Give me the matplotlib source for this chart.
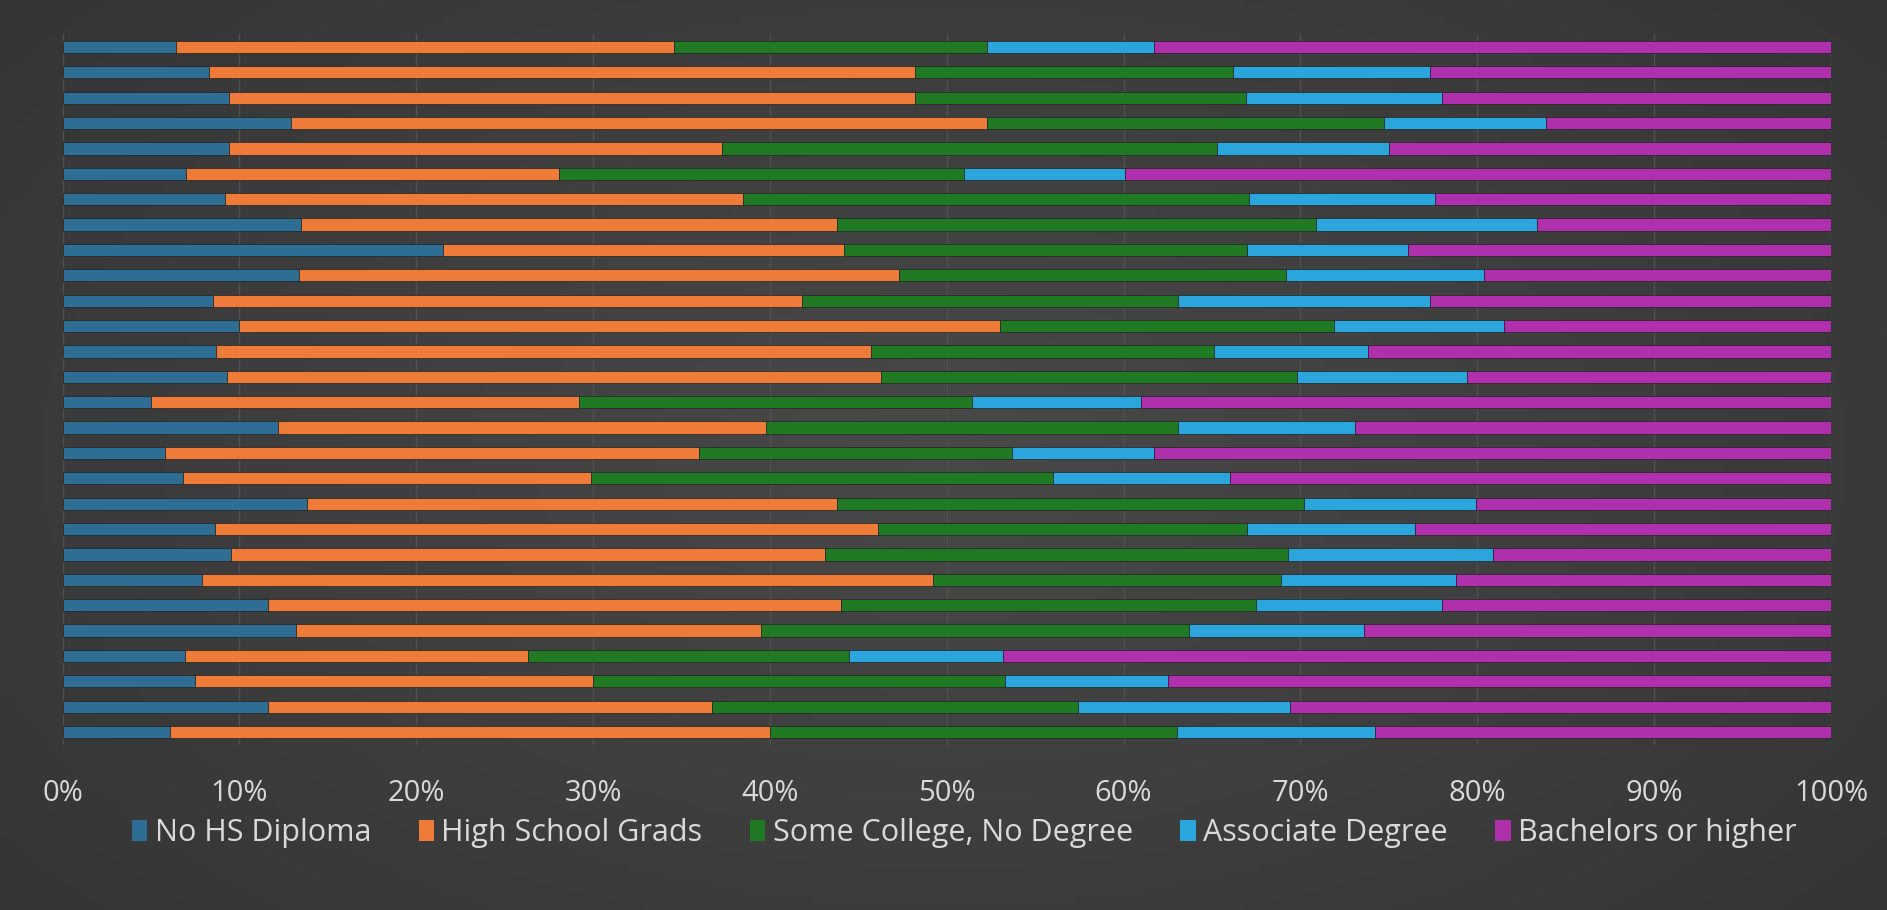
import numpy as np
import matplotlib
matplotlib.use("Agg")
import matplotlib.pyplot as plt
from matplotlib.ticker import PercentFormatter

# Data: share of each education level (percent), 28 rows, top to bottom
no_hs = [6.4, 8.3, 9.4, 12.9, 9.4, 7.0, 9.2, 13.5, 21.5, 13.4, 8.5, 10.0, 8.7, 9.3,
         5.0, 12.2, 5.8, 6.8, 13.8, 8.6, 9.5, 7.9, 11.6, 13.2, 6.9, 7.5, 11.6, 6.1]
hs_grads = [28.2, 39.9, 38.8, 39.4, 27.9, 21.1, 29.3, 30.3, 22.7, 33.9, 33.3, 43.0, 37.0, 37.0,
            24.2, 27.6, 30.2, 23.1, 30.0, 37.5, 33.6, 41.3, 32.4, 26.3, 19.4, 22.5, 25.1, 33.9]
some_college = [17.7, 18.0, 18.7, 22.4, 28.0, 22.9, 28.6, 27.1, 22.8, 21.9, 21.3, 18.9, 19.4, 23.5,
                22.2, 23.3, 17.7, 26.1, 26.4, 20.9, 26.2, 19.7, 23.5, 24.2, 18.2, 23.3, 20.7, 23.0]
associate = [9.4, 11.1, 11.1, 9.2, 9.7, 9.1, 10.5, 12.5, 9.1, 11.2, 14.2, 9.6, 8.7, 9.6,
             9.6, 10.0, 8.0, 10.0, 9.7, 9.5, 11.6, 9.9, 10.5, 9.9, 8.7, 9.2, 12.0, 11.2]
bachelors = [38.3, 22.7, 22.0, 16.1, 25.0, 39.9, 22.4, 16.6, 23.9, 19.6, 22.7, 18.5, 26.2, 20.6,
             39.0, 26.9, 38.3, 34.0, 20.1, 23.5, 19.1, 21.2, 22.0, 26.4, 46.8, 37.5, 30.6, 25.8]

series_names = ["No HS Diploma", "High School Grads", "Some College, No Degree",
                "Associate Degree", "Bachelors or higher"]
series = [no_hs, hs_grads, some_college, associate, bachelors]
colors = ["#2E6E95", "#EE7B37", "#1F7A23", "#2AA6DC", "#B02FAC"]

W, H = 1887, 910
fig = plt.figure(figsize=(W / 100, H / 100), dpi=100)

# background with soft radial shading
bg = fig.add_axes([0, 0, 1, 1], zorder=-10)
yy, xx = np.mgrid[0:1:200j, 0:1:400j]
r = np.sqrt(((xx - 0.5) / 0.75) ** 2 + ((yy - 0.5) / 0.9) ** 2)
shade = np.clip(0.285 - 0.09 * r, 0.16, 0.3)
bg.imshow(np.dstack([shade, shade, shade]), aspect="auto", extent=[0, 1, 0, 1])
bg.axis("off")

left_px, right_px = 62.5, 1831
top_px, bot_px = 34.3, 744.7
ax = fig.add_axes([left_px / W, 1 - bot_px / H, (right_px - left_px) / W, (bot_px - top_px) / H])
ax.set_facecolor("none")

n = len(no_hs)
y = np.arange(n)
totals = np.array(series).sum(axis=0)
left = np.zeros(n)
handles = []
for vals, name, c in zip(series, series_names, colors):
    v = np.array(vals) / totals * 100
    b = ax.barh(y, v, left=left, height=0.48, color=c, edgecolor="#222222",
                linewidth=0.5, label=name, zorder=3)
    handles.append(b)
    left += v

font = ["Open Sans", "DejaVu Sans"]
ax.set_xlim(0, 100)
ax.set_ylim(n - 0.5, -0.5)
ax.set_xticks(np.arange(0, 101, 10))
ax.xaxis.set_major_formatter(PercentFormatter(decimals=0))
ax.set_yticks([])
ax.grid(axis="x", color="#505050", linewidth=1.0, zorder=0)
for s in ax.spines.values():
    s.set_visible(False)
ax.tick_params(axis="x", length=0, pad=25, labelsize=21, labelcolor="#D9D9D9")
for lab in ax.get_xticklabels():
    lab.set_family(font)

leg = fig.legend(handles, series_names, loc="center", bbox_to_anchor=(0.511, 1 - 833 / H),
                 ncol=5, frameon=False, handlelength=0.5, handleheight=0.7,
                 handletextpad=0.25, columnspacing=1.55,
                 prop={"family": font, "size": 22})
for t in leg.get_texts():
    t.set_color("#D9D9D9")
for h in leg.legend_handles:
    h.set_edgecolor("none")

fig.savefig("out.png", dpi=100, facecolor="#3a3a3a")
